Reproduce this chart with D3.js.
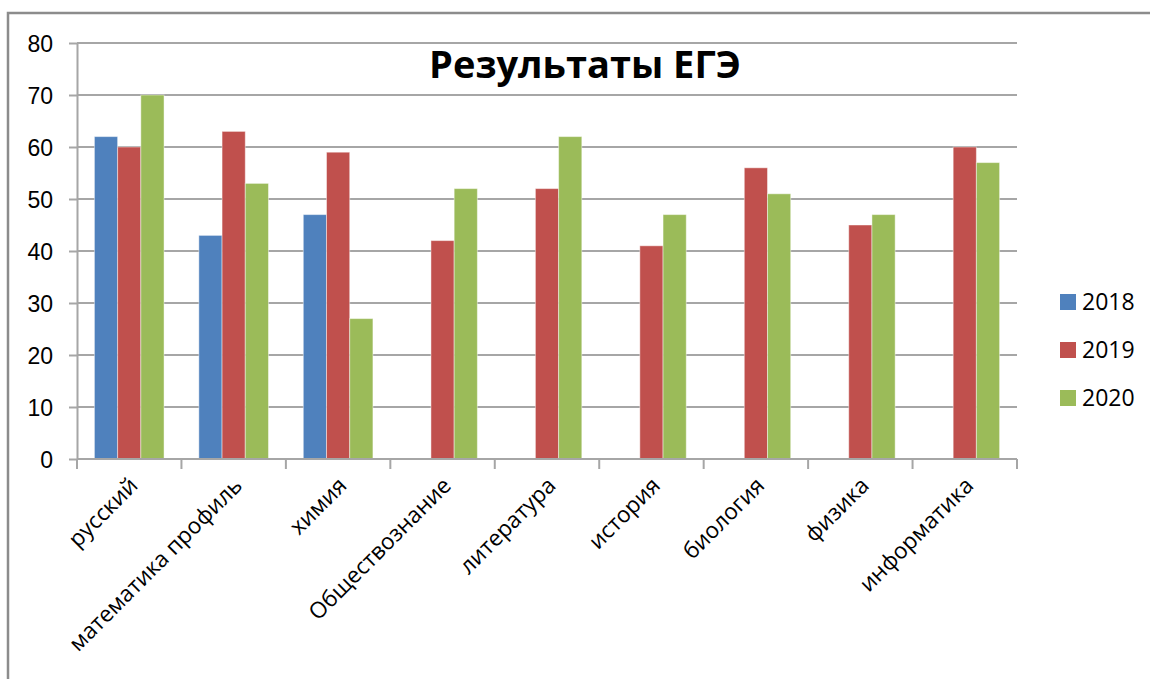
<!DOCTYPE html>
<html>
<head>
<meta charset="utf-8">
<script src="https://cdn.jsdelivr.net/npm/d3@7"></script>
<style>
  body { margin: 0; background: #fff; }
  svg { display: block; font-family: "Open Sans", sans-serif; }
  .grid line { stroke: #a6a6a6; stroke-width: 2; }
  .axis path, .axis line { stroke: #a6a6a6; stroke-width: 2; }
  .axis text { fill: #000; }
</style>
</head>
<body>
<svg id="chart" width="1150" height="679"></svg>
<script>
var subjects = ['русский', 'математика профиль', 'химия', 'Обществознание',
  'литература', 'история', 'биология', 'физика', 'информатика'];
var years = ['2018', '2019', '2020'];
var scores2018 = [62, 43, 47, null, null, null, null, null, null];
var scores2019 = [60, 63, 59, 42, 52, 41, 56, 45, 60];
var scores2020 = [70, 53, 27, 52, 62, 47, 51, 47, 57];
var yTicks = [0, 10, 20, 30, 40, 50, 60, 70, 80];
var colors = ['#4f81bd', '#c0504d', '#9bbb59'];

var svg = d3.select('#chart');

// outer frame (runs off the right and bottom of the picture)
svg.append('rect')
  .attr('x', 8).attr('y', 13)
  .attr('width', 1200).attr('height', 700)
  .attr('fill', '#fff')
  .attr('stroke', '#8c8c8c')
  .attr('stroke-width', 2.5);

var plotLeft = 77, plotRight = 1017, plotTop = 43, plotBottom = 459;

var x = d3.scaleBand().domain(subjects).range([plotLeft, plotRight]).padding(0);
var xs = d3.scaleBand().domain(years).range([0, x.bandwidth()])
  .paddingInner(0).paddingOuter(0.75);
var y = d3.scaleLinear().domain([0, 80]).range([plotBottom, plotTop]);

// gridlines
svg.append('g').attr('class', 'grid')
  .selectAll('line').data(yTicks.slice(1)).enter().append('line')
  .attr('x1', plotLeft).attr('x2', plotRight)
  .attr('y1', function(d) { return y(d) }).attr('y2', function(d) { return y(d) });

// y axis
var yAxis = svg.append('g').attr('class', 'axis')
  .attr('transform', 'translate(' + plotLeft + ',0)')
  .call(d3.axisLeft(y).tickValues(yTicks).tickSize(8).tickPadding(16).tickSizeOuter(0));
yAxis.selectAll('text').style('font-size', '23px').attr('dy', '0.36em');

// bars
var series = [scores2018, scores2019, scores2020];
series.forEach(function(values, i) {
  svg.append('g').selectAll('rect')
    .data(values.map(function(v, j) { return { s: subjects[j], v: v } })
      .filter(function(d) { return d.v != null }))
    .enter().append('rect')
    .attr('x', function(d) { return x(d.s) + xs(years[i]) })
    .attr('width', xs.bandwidth())
    .attr('y', function(d) { return y(d.v) })
    .attr('height', function(d) { return y(0) - y(d.v) })
    .attr('fill', colors[i])
    .attr('stroke', '#fff')
    .attr('stroke-opacity', 0.45)
    .attr('stroke-width', 1);
});

// x axis with ticks between categories
var xAxis = svg.append('g').attr('class', 'axis');
xAxis.append('line')
  .attr('x1', plotLeft).attr('x2', plotRight)
  .attr('y1', plotBottom).attr('y2', plotBottom);
xAxis.selectAll('.tick')
  .data(subjects.concat(['end'])).enter().append('line')
  .attr('x1', function(d, i) { return plotLeft + i * x.step() })
  .attr('x2', function(d, i) { return plotLeft + i * x.step() })
  .attr('y1', plotBottom).attr('y2', plotBottom + 10);

svg.append('g').selectAll('text')
  .data(subjects).enter().append('text')
  .attr('text-anchor', 'end')
  .attr('font-size', '22.5px')
  .attr('transform', function(d) {
    var cx = x(d) + x.bandwidth() / 2 + 10;
    return 'translate(' + cx + ',' + (plotBottom + 28) + ') rotate(-45)';
  })
  .text(function(d) { return d });

// title
svg.append('text')
  .attr('x', 585).attr('y', 78)
  .attr('text-anchor', 'middle')
  .attr('font-size', '38px')
  .attr('font-weight', 'bold')
  .text('Результаты ЕГЭ');

// legend
var legend = svg.append('g').selectAll('g')
  .data(years).enter().append('g')
  .attr('transform', function(d, i) { return 'translate(1060,' + (302 + i * 48) + ')' });
legend.append('rect')
  .attr('x', 0).attr('y', -8).attr('width', 16).attr('height', 16)
  .attr('fill', function(d, i) { return colors[i] });
legend.append('text')
  .attr('x', 22).attr('dy', '0.36em')
  .attr('font-size', '23px')
  .text(function(d) { return d });
</script>
</body>
</html>
